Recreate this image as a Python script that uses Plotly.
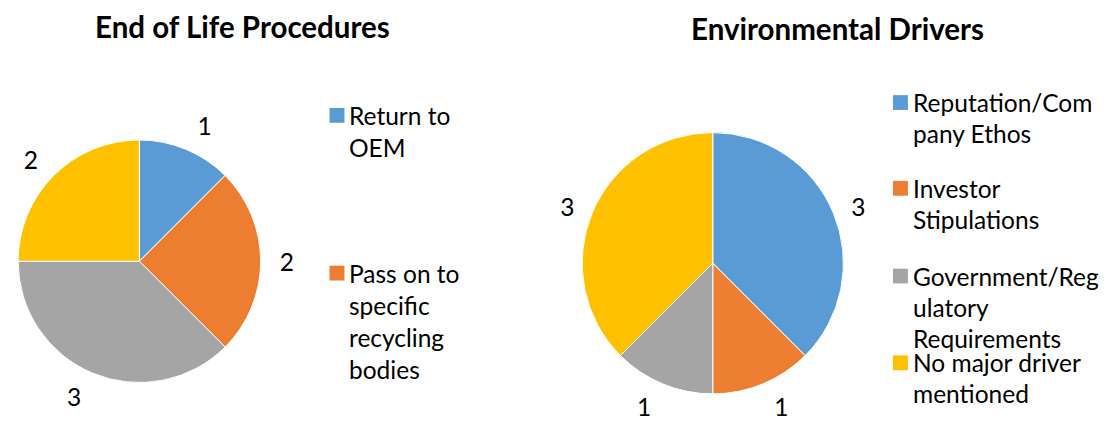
import plotly.graph_objects as go

# ---- data ----
left_title = "End of Life Procedures"
left_labels = ["Return to OEM", "Pass on to specific recycling bodies", "Other (grey)", "Other (yellow)"]
left_values = [1, 2, 3, 2]
left_legend_labels = ["Return to<br>OEM", "Pass on to<br>specific<br>recycling<br>bodies"]

right_title = "Environmental Drivers"
right_labels = ["Reputation/Company Ethos", "Investor Stipulations",
                "Government/Regulatory Requirements", "No major driver mentioned"]
right_values = [3, 1, 1, 3]
right_legend_labels = ["Reputation/Com<br>pany Ethos", "Investor<br>Stipulations",
                       "Government/Reg<br>ulatory<br>Requirements", "No major driver<br>mentioned"]

colors = ["#5B9BD5", "#ED7D31", "#A5A5A5", "#FFC000"]

W, H = 1105, 426
FONT = "Lato"
FS = 24.5


def px_dom(cx, cy, r):
    return dict(x=[max(0, (cx - r) / W), min(1, (cx + r) / W)],
                y=[max(0, 1 - (cy + r) / H), min(1, 1 - (cy - r) / H)])


fig = go.Figure()


def add_pie(labels, values, cx, cy, r, r_lab):
    # visible pie
    fig.add_trace(go.Pie(
        labels=labels, values=values, sort=False, direction="clockwise", rotation=0,
        marker=dict(colors=colors, line=dict(color="white", width=1)),
        textinfo="none", showlegend=False, hoverinfo="label+value",
        domain=px_dom(cx, cy, r),
    ))
    # transparent helper pie carrying the outside value labels
    fig.add_trace(go.Pie(
        labels=labels, values=values, sort=False, direction="clockwise", rotation=0,
        marker=dict(colors=["rgba(0,0,0,0)"] * len(values), line=dict(width=0)),
        texttemplate="%{value}", textposition="outside",
        outsidetextfont=dict(family=FONT, size=FS, color="black"),
        showlegend=False, hoverinfo="skip",
        domain=px_dom(cx, cy, r_lab),
    ))


add_pie(left_labels, left_values, 135, 265, 123, 135)
add_pie(right_labels, right_values, 711, 267, 132.5, 144)

annotations = []
shapes = []


def add_title(text, cx, cy):
    annotations.append(dict(text="<b>" + text + "</b>", x=cx / W, y=1 - cy / H, xref="paper", yref="paper",
                            xanchor="center", yanchor="middle", showarrow=False,
                            font=dict(family=FONT, size=29.5, color="black")))


add_title(left_title, 239, 27)
add_title(right_title, 836, 29)


def add_legend(entries, first_ys, sq_x, txt_x, line_gap):
    for i, (lab, y0) in enumerate(zip(entries, first_ys)):
        shapes.append(dict(type="rect", xref="paper", yref="paper",
                           x0=sq_x / W, x1=(sq_x + 15) / W,
                           y0=1 - (y0 + 7.5) / H, y1=1 - (y0 - 7.5) / H,
                           fillcolor=colors[i], line=dict(width=0)))
        for j, line in enumerate(lab.split("<br>")):
            annotations.append(dict(text=line, x=txt_x / W, y=1 - (y0 + j * line_gap) / H,
                                    xref="paper", yref="paper", xanchor="left", yanchor="middle",
                                    showarrow=False,
                                    font=dict(family=FONT, size=FS, color="black")))


add_legend(left_legend_labels, [117, 277], 326, 344, 32.5)
add_legend(right_legend_labels, [104, 191, 280, 368], 892, 910, 31.5)

fig.update_layout(
    width=W, height=H, margin=dict(l=0, r=0, t=0, b=0),
    paper_bgcolor="white", plot_bgcolor="white",
    annotations=annotations, shapes=shapes, showlegend=False,
    font=dict(family=FONT, size=FS, color="black"),
)

fig.write_html("out.html", post_script="document.body.style.margin='0';",
               config={"displayModeBar": False})
